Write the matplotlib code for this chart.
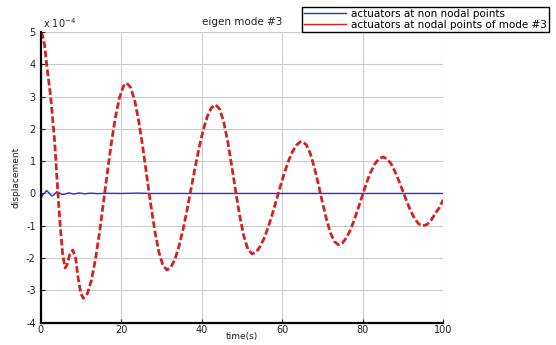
import matplotlib
matplotlib.use("Agg")
import matplotlib.pyplot as plt
from matplotlib.lines import Line2D
from matplotlib.ticker import FuncFormatter

plt.rcParams['font.family'] = ['DejaVu Sans']

# Werte (Verschiebung in Einheiten von 1e-4)
t_nodal = [0, 0.5, 1.0, 1.5, 2.0, 2.5, 3.0, 3.5, 4.0, 4.5, 5.0, 5.5, 6.1, 6.6, 7.2, 8.0,
           8.7, 9.3, 10.0, 10.6, 11.6, 12.6, 13.6, 14.6, 15.6, 16.6, 17.6, 18.6, 19.6,
           20.6, 21.4, 22.4, 23.4, 24.4, 25.4, 26.4, 27.4, 28.4, 29.4, 30.4, 31.4, 32.4,
           33.4, 34.4, 35.4, 36.4, 37.4, 38.4, 39.4, 40.4, 41.4, 42.4, 43.5, 44.5, 45.5,
           46.5, 47.5, 48.5, 49.5, 50.5, 51.5, 52.5, 53.5, 54.5, 55.5, 56.5, 57.5, 58.5,
           59.5, 60.5, 61.5, 62.5, 63.5, 64.5, 65, 66, 67, 68, 69, 70, 71, 72, 73, 74,
           75, 76, 77, 78, 79, 80, 81, 82, 83, 84, 85, 86, 87, 88, 89, 90, 91, 92, 93,
           94, 95, 96, 97, 98, 99, 100]
y_nodal = [4.98, 4.9, 4.6, 4.0, 3.5, 3.0, 2.3, 1.6, 0.6, -0.35, -1.2, -1.9, -2.31, -2.2,
           -1.9, -1.75, -2.0, -2.6, -3.1, -3.25, -3.11, -2.7, -2.06, -1.24, -0.3, 0.66,
           1.58, 2.37, 2.97, 3.33, 3.42, 3.28, 2.87, 2.23, 1.42, 0.52, -0.37, -1.18,
           -1.82, -2.23, -2.37, -2.28, -2.03, -1.63, -1.11, -0.5, 0.16, 0.81, 1.43, 1.97,
           2.38, 2.65, 2.75, 2.61, 2.21, 1.6, 0.84, 0.04, -0.72, -1.33, -1.73, -1.87,
           -1.82, -1.65, -1.4, -1.06, -0.67, -0.24, 0.2, 0.61, 0.98, 1.28, 1.49, 1.6,
           1.61, 1.51, 1.24, 0.81, 0.29, -0.27, -0.79, -1.22, -1.49, -1.59, -1.53, -1.37,
           -1.12, -0.79, -0.42, -0.04, 0.34, 0.66, 0.91, 1.07, 1.13, 1.08, 0.93, 0.69,
           0.39, 0.07, -0.26, -0.56, -0.8, -0.95, -1.0, -0.96, -0.83, -0.63, -0.45, -0.2]

t_non_nodal = [0, 0.7, 1.5, 2.2, 2.8, 3.4, 4.0, 4.6, 5.3, 6.0, 7.0, 8.2, 9.5, 11, 12.5,
               14, 16, 20, 24, 28, 40, 60, 80, 100]
y_non_nodal = [-0.15, -0.02, 0.09, 0.0, -0.08, -0.03, 0.05, 0.02, -0.03, -0.02, 0.02,
               -0.02, 0.015, -0.01, 0.01, -0.005, 0.005, 0.0, 0.01, 0.0, 0.0, 0.0, 0.0, 0.0]

x_ticks = [0, 20, 40, 60, 80, 100]
y_ticks = [-4, -3, -2, -1, 0, 1, 2, 3, 4, 5]
skala = 1e-4

fig = plt.figure(figsize=(5.56, 3.45), dpi=100)
ax = fig.add_axes([0.073, 0.065, 0.724, 0.842])

ax.plot(t_non_nodal, [v * skala for v in y_non_nodal], color='#3030cc', lw=1.0)
rot, = ax.plot(t_nodal, [v * skala for v in y_nodal], color='#d42222', lw=2.0)
rot.set_dashes([2.4, 1.0])

ax.set_xlim(0, 100)
ax.set_ylim(-4 * skala, 5 * skala)
ax.set_xticks(x_ticks)
ax.set_yticks([v * skala for v in y_ticks])
ax.yaxis.set_major_formatter(FuncFormatter(lambda v, p: f"{v / skala:.0f}"))
ax.tick_params(direction='in', length=3, labelsize=7, colors='#222222')
ax.tick_params(axis='x', pad=2)
ax.grid(True, color='#cccccc', lw=0.8)

for s in ['top', 'right']:
    ax.spines[s].set_visible(False)
for s in ['left', 'bottom']:
    ax.spines[s].set_linewidth(1.6)
    ax.spines[s].set_color('black')

ax.set_title("eigen mode #3", fontsize=7.5, pad=5, color='#222222')
ax.text(0.005, 1.008, r"x 10$^{-4}$", transform=ax.transAxes, fontsize=7,
        color='#222222', va='bottom', ha='left')
ax.set_xlabel("time(s)", fontsize=6.5, color='#222222', va='center')
ax.xaxis.set_label_coords(0.5, -0.048)
ax.set_ylabel("displacement", fontsize=6.5, labelpad=4, color='#222222')

# Legende (rechts oben)
griffe = [Line2D([], [], color='#3030cc', lw=1.0),
          Line2D([], [], color='#d42222', lw=1.0)]
leg = fig.legend(griffe, ["actuators at non nodal points",
                          "actuators at nodal points of mode #3"],
                 loc='upper left', bbox_to_anchor=(302 / 556, 1 - 7 / 345),
                 fontsize=7.5, handlelength=4.0, handletextpad=0.5,
                 borderpad=0.2, borderaxespad=0, labelspacing=0.05,
                 fancybox=False, framealpha=1, edgecolor='black')
leg.get_frame().set_linewidth(1.0)

fig.savefig("out.png", dpi=100)
